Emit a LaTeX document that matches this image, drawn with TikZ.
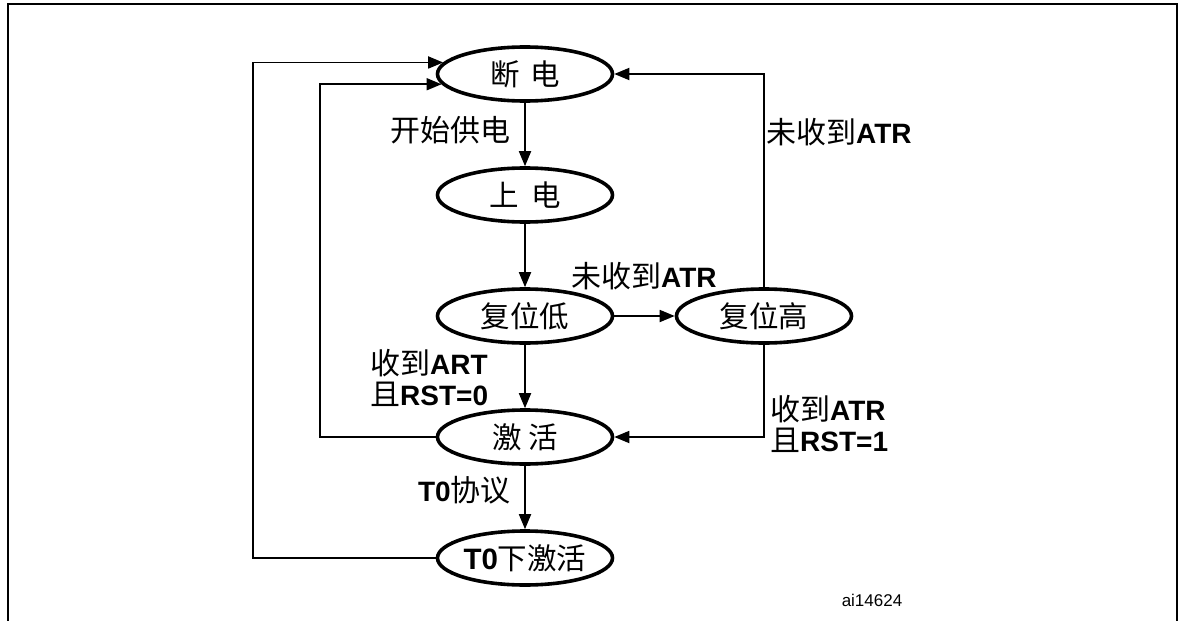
\documentclass[tikz,border=0pt]{standalone}
\usepackage{fontspec}
\setmainfont{Liberation Sans}
\newfontfamily\cjk{Noto Sans CJK SC}
\newcommand\zh[1]{{\cjk\fontsize{30}{31}\selectfont #1}}
\usetikzlibrary{arrows.meta,shapes.geometric}
\begin{document}
\begin{tikzpicture}[x=1pt,y=-1pt,
  st/.style={ellipse,draw,line width=3.6pt,minimum width=175pt,minimum height=54pt,inner sep=0pt,font=\cjk\fontsize{29.5}{32}\selectfont},
  arr/.style={line width=1.8pt,-{Triangle[length=15pt,width=12pt]}},
  lbl/.style={inner sep=0pt,align=left,font=\fontsize{28}{31.5}\selectfont}]
\useasboundingbox (0,0) rectangle (1179,621);
\draw[line width=2.2pt] (8,621) -- (8,4) -- (1177,4) -- (1177,621);
\node[st] (A) at (525,74) {断\hspace{11pt}电};
\node[st] (B) at (525,195) {上\hspace{13pt}电};
\node[st] (C) at (525,316) {复位低};
\node[st] (D) at (764,316) {复位高};
\node[st] (E) at (525,437) {激\hspace{7pt}活};
\node[st] (F) at (525,558) {{\rmfamily\bfseries T0}下激活};
\draw[arr] (A.south) -- (B.north);
\draw[arr] (B.south) -- (C.north);
\draw[arr] (C.south) -- (E.north);
\draw[arr] (E.south) -- (F.north);
\draw[arr] (C.east) -- (D.west);
\draw[arr] (D.north) |- (A.east);
\draw[arr] (D.south) |- (E.east);
\coordinate (xo) at (253,0);
\coordinate (xi) at (320,0);
\draw[arr] (F.west) -| (xo |- A.172) -- (A.172);
\draw[arr] (E.west) -| (xi |- A.187) -- (A.187);
\node[lbl,anchor=east] (l1) at (511,130) {\zh{开始供电}};
\node[lbl,anchor=west] (l2) at (766,132) {\zh{未收到}\textbf{ATR}};
\node[lbl,anchor=west] (l3) at (571,276) {\zh{未收到}\textbf{ATR}};
\node[lbl,anchor=west] (l4) at (370,378) {\zh{收到}\textbf{ART}\\\zh{且}\textbf{RST=0}};
\node[lbl,anchor=west] (l5) at (770,424) {\zh{收到}\textbf{ATR}\\\zh{且}\textbf{RST=1}};
\node[lbl,anchor=east] (l6) at (511,490) {\textbf{T0}\zh{协议}};
\node[inner sep=0pt,font=\fontsize{17}{20}\selectfont] (id) at (872,600) {ai14624};
\end{tikzpicture}
\end{document}
